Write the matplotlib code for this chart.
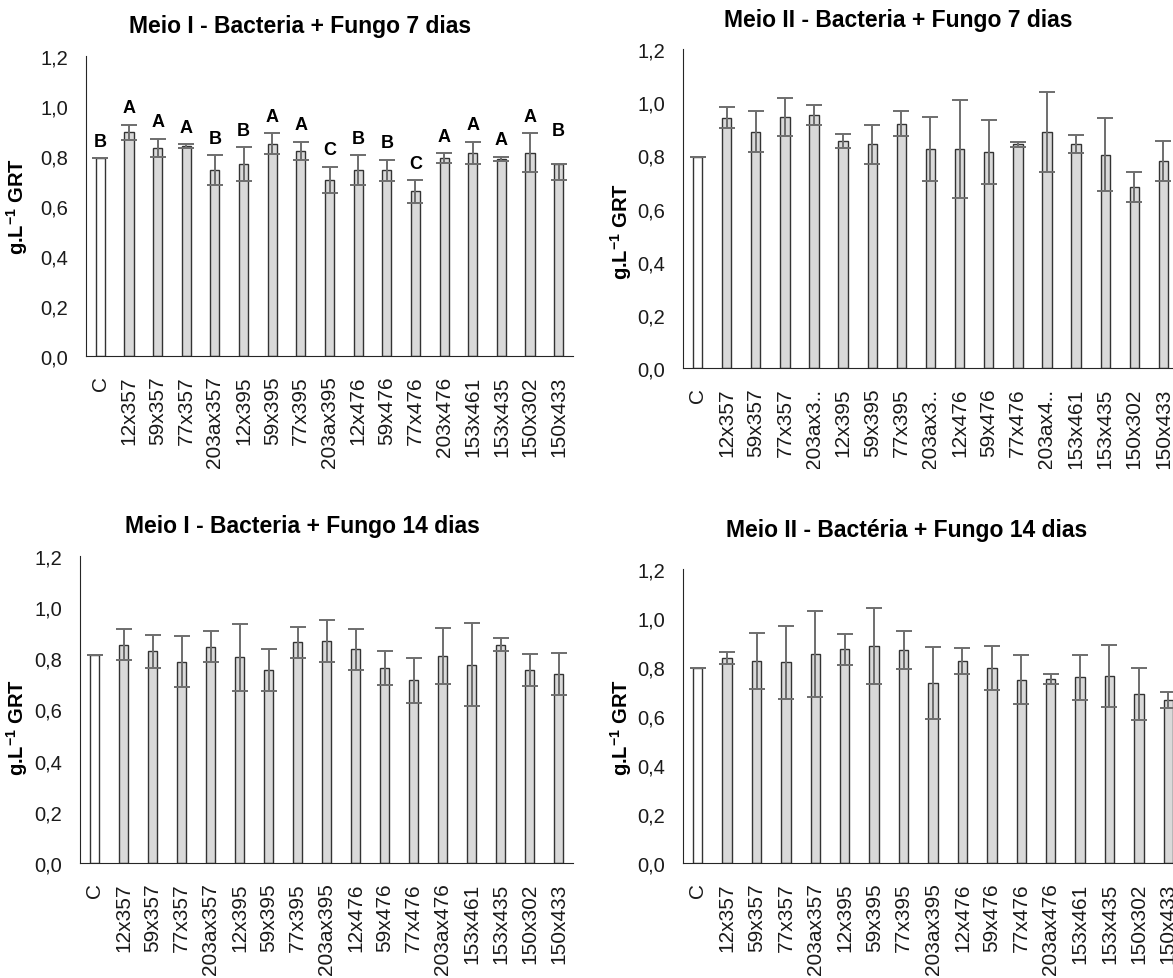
import matplotlib
matplotlib.use("Agg")
import matplotlib.pyplot as plt
from matplotlib.patches import Rectangle

plt.rcParams["font.family"] = ["Liberation Sans", "DejaVu Sans"]
plt.rcParams["mathtext.fontset"] = "custom"
plt.rcParams["mathtext.rm"] = "Liberation Sans"
plt.rcParams["mathtext.bf"] = "Liberation Sans:bold"

## Data

labels_a = ["C", "12x357", "59x357", "77x357", "203ax357", "12x395", "59x395", "77x395",
            "203ax395", "12x476", "59x476", "77x476", "203x476", "153x461", "153x435",
            "150x302", "150x433"]
labels_b = ["C", "12x357", "59x357", "77x357", "203ax3..", "12x395", "59x395", "77x395",
            "203ax3..", "12x476", "59x476", "77x476", "203ax4..", "153x461", "153x435",
            "150x302", "150x433"]
labels_c = ["C", "12x357", "59x357", "77x357", "203ax357", "12x395", "59x395", "77x395",
            "203ax395", "12x476", "59x476", "77x476", "203ax476", "153x461", "153x435",
            "150x302", "150x433"]

# Meio I - 7 dias
m1_7_mean = [0.792, 0.895, 0.832, 0.839, 0.743, 0.768, 0.850, 0.820, 0.704, 0.743, 0.743,
             0.659, 0.792, 0.814, 0.789, 0.814, 0.770]
m1_7_err_lo = [0.0, 0.030, 0.037, 0.008, 0.060, 0.067, 0.042, 0.037, 0.053, 0.060, 0.043,
               0.045, 0.019, 0.044, 0.008, 0.078, 0.066]
m1_7_err_hi = [0.0, 0.030, 0.037, 0.008, 0.060, 0.067, 0.042, 0.037, 0.053, 0.060, 0.043,
               0.045, 0.019, 0.044, 0.008, 0.078, 0.0]
m1_7_letters = ["B", "A", "A", "A", "B", "B", "A", "A", "C", "B", "B", "C", "A", "A", "A",
                "A", "B"]

# Meio II - 7 dias
m2_7_mean = [0.792, 0.941, 0.888, 0.944, 0.951, 0.855, 0.841, 0.919, 0.824, 0.824, 0.813,
             0.841, 0.888, 0.843, 0.803, 0.681, 0.780]
m2_7_err = [0.0, 0.040, 0.077, 0.072, 0.038, 0.026, 0.074, 0.046, 0.119, 0.185, 0.120,
            0.008, 0.150, 0.035, 0.139, 0.056, 0.075]

# Meio I - 14 dias
m1_14_mean = [0.812, 0.853, 0.827, 0.787, 0.846, 0.804, 0.755, 0.863, 0.867, 0.835, 0.761,
              0.715, 0.809, 0.775, 0.853, 0.755, 0.738]
m1_14_err = [0.0, 0.061, 0.066, 0.100, 0.061, 0.130, 0.081, 0.060, 0.081, 0.080, 0.067,
             0.088, 0.108, 0.163, 0.026, 0.063, 0.083]

# Meio II - 14 dias
m2_14_mean = [0.797, 0.837, 0.824, 0.819, 0.852, 0.872, 0.884, 0.869, 0.735, 0.824, 0.796,
              0.748, 0.751, 0.758, 0.763, 0.689, 0.666]
m2_14_err = [0.0, 0.023, 0.115, 0.149, 0.175, 0.064, 0.155, 0.076, 0.146, 0.052, 0.088,
             0.099, 0.022, 0.091, 0.126, 0.106, 0.034]

yticks = [0.0, 0.2, 0.4, 0.6, 0.8, 1.0, 1.2]
ytick_labels = ["0,0", "0,2", "0,4", "0,6", "0,8", "1,0", "1,2"]

## Style
W, H = 1173, 979
BAR_FILL = "#d9d9d9"
BAR_EDGE = "#333333"
ERR_COLOR = "#6e6e6e"
TEXT_COLOR = "#1a1a1a"
YLABEL = r"g.L$^{\mathbf{-1}}$ GRT"

fig = plt.figure(figsize=(W / 100, H / 100), dpi=100)
fig.set_facecolor("white")


def px_axes(x0, x1, y_top, y_zero):
    # axes rectangle from pixel coordinates (y measured from top)
    return fig.add_axes([x0 / W, 1 - y_zero / H, (x1 - x0) / W, (y_zero - y_top) / H])


def panel(ax, means, err_lo, err_hi, labels, title, title_xy, ylabel_xy, clip_bottom):
    n = len(means)
    xs = list(range(n))
    colors = ["white"] + [BAR_FILL] * (n - 1)
    ax.bar(xs, means, width=0.32, color=colors, edgecolor=BAR_EDGE, linewidth=1.0, zorder=2)
    ax.errorbar(xs, means, yerr=[err_lo, err_hi], fmt="none", ecolor=ERR_COLOR,
                elinewidth=1.4, capsize=5.5, capthick=1.4, zorder=3)
    ax.set_xlim(-0.5, n - 0.5)
    ax.set_ylim(0, 1.2)
    ax.set_yticks(yticks)
    ax.set_yticklabels(ytick_labels)
    ax.set_xticks(xs)
    ax.set_xticklabels(labels, rotation=90)
    ax.tick_params(axis="both", length=0, colors=TEXT_COLOR)
    ax.tick_params(axis="y", pad=13, labelsize=14.5)
    ax.tick_params(axis="x", pad=14, labelsize=15)
    ax.spines["top"].set_visible(False)
    ax.spines["right"].set_visible(False)
    ax.spines["left"].set_color("#262626")
    ax.spines["bottom"].set_color("#262626")
    ax.set_facecolor("none")
    fig.text(title_xy[0] / W, 1 - title_xy[1] / H, title, ha="center", va="center",
             fontsize=16.5, fontweight="bold", color="black")
    fig.text(ylabel_xy[0] / W, 1 - ylabel_xy[1] / H, YLABEL, ha="center", va="center",
             rotation=90, fontsize=14.5, fontweight="bold", color="black")
    clip = Rectangle((0, 1 - clip_bottom / H), 1, clip_bottom / H, transform=fig.transFigure)
    for lbl in ax.get_xticklabels():
        lbl.set_clip_path(clip)
    return xs


## Meio I - 7 dias
ax1 = px_axes(86, 573, 57, 357)
xs = panel(ax1, m1_7_mean, m1_7_err_lo, m1_7_err_hi, labels_a,
           "Meio I - Bacteria + Fungo 7 dias", (300, 27), (17, 207), 470)
for x, m, e, letter in zip(xs, m1_7_mean, m1_7_err_hi, m1_7_letters):
    top = m + max(e, m1_7_err_lo[x])
    ax1.annotate(letter, (x, top), textcoords="offset points", xytext=(0, 6),
                 ha="center", va="bottom", fontsize=13, fontweight="bold", color="black")

## Meio II - 7 dias
ax2 = px_axes(683, 1178, 50, 369)
panel(ax2, m2_7_mean, m2_7_err, m2_7_err, labels_b,
      "Meio II - Bacteria + Fungo 7 dias", (898, 20), (621, 232), 470)

## Meio I - 14 dias
ax3 = px_axes(80, 573, 557, 864)
panel(ax3, m1_14_mean, m1_14_err, m1_14_err, labels_c,
      "Meio I - Bacteria + Fungo 14 dias", (302, 527), (17, 728), H)

## Meio II - 14 dias
ax4 = px_axes(683, 1183, 570, 864)
panel(ax4, m2_14_mean, m2_14_err, m2_14_err, labels_c,
      "Meio II - Bactéria + Fungo 14 dias", (907, 530), (621, 728), H)

fig.savefig("out.png", dpi=100, facecolor="white")
